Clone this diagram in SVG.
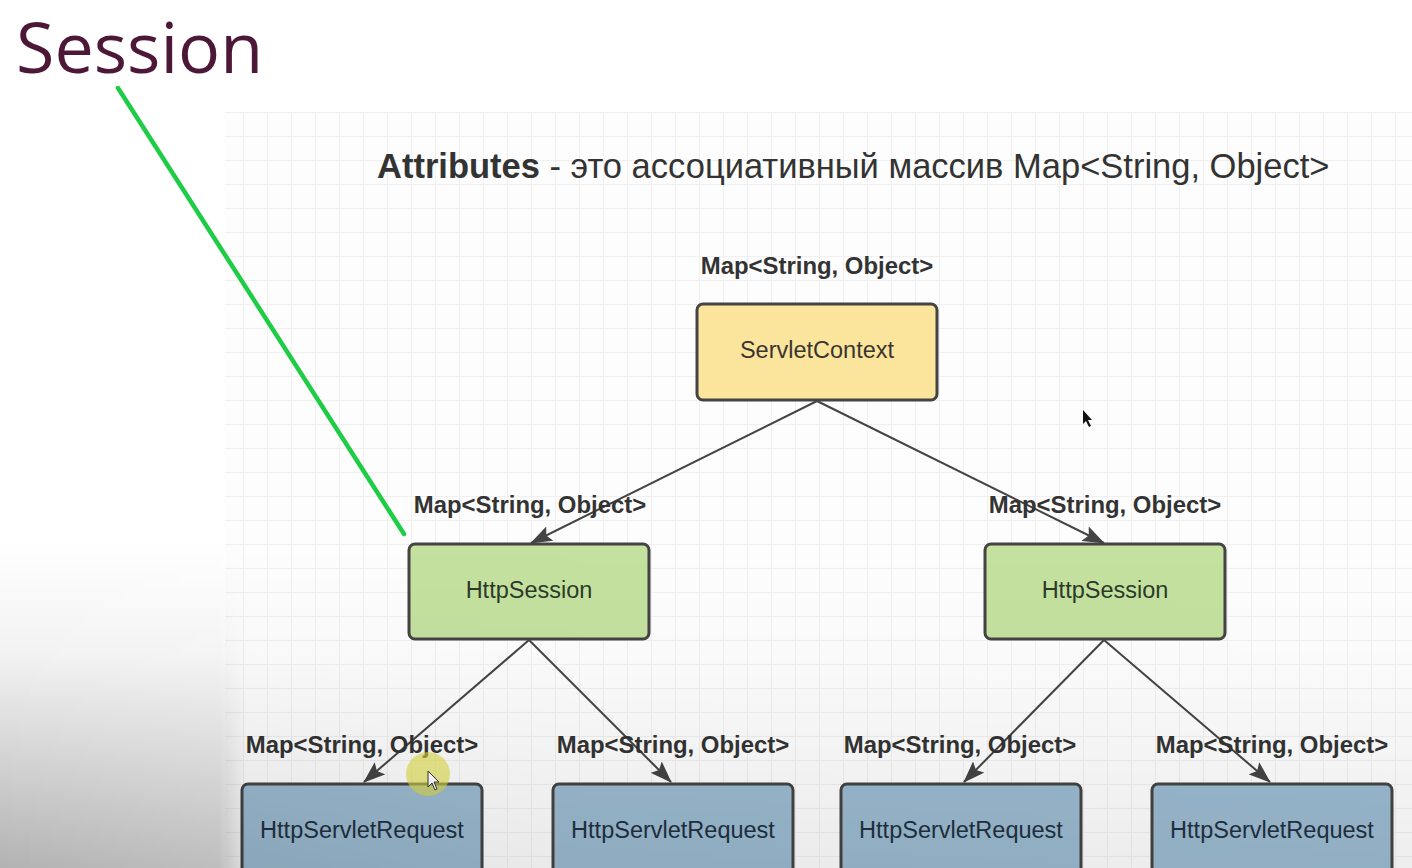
<svg xmlns="http://www.w3.org/2000/svg" width="1412" height="868" viewBox="0 0 1412 868">
<style>
.box{stroke:#444;stroke-width:3}
.ctx{fill:#fbe49c}
.ses{fill:#c4e1a0}
.req{fill:#9bbad0}
.nt{font-family:"Liberation Sans",Arial,sans-serif;font-size:23.5px;text-anchor:middle;dominant-baseline:central}
.lbl{font-family:"Liberation Sans",Arial,sans-serif;font-size:23.9px;font-weight:bold;fill:#333;text-anchor:middle;dominant-baseline:central}
.edge{stroke:#444;stroke-width:2;fill:none;marker-end:url(#arr)}
</style>
<defs>
<pattern id="grid" x="219" y="112" width="24" height="24" patternUnits="userSpaceOnUse">
<path d="M0 0.5H24M0.5 0V24" stroke="#f0f0f0" stroke-width="1" fill="none"/>
</pattern>
<marker id="arr" viewBox="0 0 22 16" refX="21" refY="8" markerWidth="22" markerHeight="16" markerUnits="userSpaceOnUse" orient="auto">
<path d="M0 0L22 8L0 16L4 8Z" fill="#444"/>
</marker>
<linearGradient id="shadeV" x1="0" y1="0" x2="0" y2="1">
<stop offset="0" stop-color="#000" stop-opacity="0"/>
<stop offset="0.35" stop-color="#000" stop-opacity="0.05"/>
<stop offset="1" stop-color="#000" stop-opacity="0.3"/>
</linearGradient>
<linearGradient id="shadeH" x1="0" y1="0" x2="1" y2="0">
<stop offset="0" stop-color="#fff"/>
<stop offset="0.155" stop-color="#fff" stop-opacity="0.85"/>
<stop offset="0.175" stop-color="#fff" stop-opacity="0.35"/>
<stop offset="0.4" stop-color="#fff" stop-opacity="0.25"/>
<stop offset="1" stop-color="#fff" stop-opacity="0.2"/>
</linearGradient>
<mask id="shadeMask">
<rect x="0" y="0" width="1412" height="868" fill="url(#shadeH)"/>
</mask>
</defs>
<rect x="0" y="0" width="1412" height="868" fill="#fff"/>
<rect x="225" y="112" width="1187" height="756" fill="#fdfdfd"/>
<rect x="225" y="112" width="1187" height="756" fill="url(#grid)"/>

<text x="16" y="73" font-family="'Open Sans',sans-serif" font-size="70" fill="#4d1838">Session</text>
<line x1="118" y1="88" x2="404" y2="534" stroke="#1fcc45" stroke-width="4.5" stroke-linecap="round"/>

<text x="377" y="178" font-family="'Liberation Sans',Arial,sans-serif" font-size="34.5" fill="#333"><tspan font-weight="bold">Attributes</tspan> - это ассоциативный массив Map&lt;String, Object&gt;</text>

<g id="connectors">
<line class="edge" x1="817" y1="401" x2="531" y2="543"/>
<line class="edge" x1="817" y1="401" x2="1104" y2="543"/>
<line class="edge" x1="529" y1="640" x2="364" y2="782"/>
<line class="edge" x1="529" y1="640" x2="671" y2="782"/>
<line class="edge" x1="1104" y1="640" x2="964" y2="782"/>
<line class="edge" x1="1104" y1="640" x2="1270" y2="782"/>
</g>

<g id="labels">
<text class="lbl" x="817" y="265">Map&lt;String, Object&gt;</text>
<text class="lbl" x="530" y="504">Map&lt;String, Object&gt;</text>
<text class="lbl" x="1105" y="504">Map&lt;String, Object&gt;</text>
<text class="lbl" x="362" y="744">Map&lt;String, Object&gt;</text>
<text class="lbl" x="673" y="744">Map&lt;String, Object&gt;</text>
<text class="lbl" x="960" y="744">Map&lt;String, Object&gt;</text>
<text class="lbl" x="1272" y="744">Map&lt;String, Object&gt;</text>
</g>

<g id="servletContext">
<rect class="box ctx" x="697" y="304" width="240" height="96" rx="6"/>
<text class="nt" x="817" y="350" fill="#3a3530">ServletContext</text>
</g>
<g id="httpSession1">
<rect class="box ses" x="409" y="544" width="240" height="95" rx="6"/>
<text class="nt" x="529" y="590" fill="#2e3a2a">HttpSession</text>
</g>
<g id="httpSession2">
<rect class="box ses" x="985" y="544" width="240" height="95" rx="6"/>
<text class="nt" x="1105" y="590" fill="#2e3a2a">HttpSession</text>
</g>
<g id="request1">
<rect class="box req" x="242" y="784" width="240" height="100" rx="6"/>
<text class="nt" x="362" y="830" fill="#1f3142">HttpServletRequest</text>
</g>
<g id="request2">
<rect class="box req" x="553" y="784" width="240" height="100" rx="6"/>
<text class="nt" x="673" y="830" fill="#1f3142">HttpServletRequest</text>
</g>
<g id="request3">
<rect class="box req" x="841" y="784" width="240" height="100" rx="6"/>
<text class="nt" x="961" y="830" fill="#1f3142">HttpServletRequest</text>
</g>
<g id="request4">
<rect class="box req" x="1152" y="784" width="240" height="100" rx="6"/>
<text class="nt" x="1272" y="830" fill="#1f3142">HttpServletRequest</text>
</g>

<circle cx="428" cy="774" r="22" fill="#e0dc40" fill-opacity="0.6"/>
<path d="M428 771L428 787L432 783L435 790L437 789L434 782L439 782Z" fill="#fff" stroke="#333" stroke-width="1"/>
<path d="M1083 410L1083 424L1086 421L1089 427L1091 426L1088 420L1092 420Z" fill="#111"/>

<rect x="0" y="540" width="1412" height="328" fill="url(#shadeV)" mask="url(#shadeMask)"/>
</svg>
